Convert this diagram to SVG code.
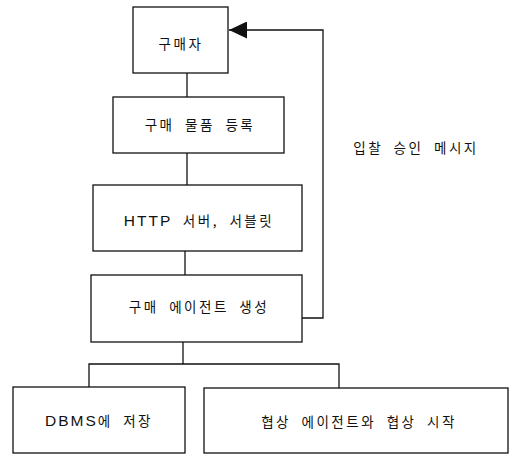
<svg xmlns="http://www.w3.org/2000/svg" width="510" height="455" viewBox="0 0 510 455">
<style>
.box{fill:#fff;stroke:#111;stroke-width:1.3}
.t{font-family:"Noto Sans CJK KR","Liberation Sans",sans-serif;font-size:13.5px;letter-spacing:2.5px;word-spacing:5px;fill:#111;text-anchor:middle;dominant-baseline:central}
.lat{font-family:"Liberation Sans",sans-serif;font-size:15.5px;letter-spacing:2px}
.c{fill:none;stroke:#111;stroke-width:1.3}
</style>
<defs>
<marker id="big" markerWidth="19" markerHeight="17" refX="18" refY="8.5" orient="auto" markerUnits="userSpaceOnUse">
<path d="M0,0 L18,8.5 L0,17 Z" fill="#111"/>
</marker>
</defs>
<rect width="510" height="455" fill="#fff"/>
<g id="connectors">
<line class="c" x1="187" y1="73" x2="187" y2="97"/>
<line class="c" x1="187" y1="153" x2="187" y2="185"/>
<line class="c" x1="185" y1="251" x2="185" y2="275"/>
<polyline class="c" points="183,342 183,364"/>
<polyline class="c" points="89,387 89,364 339,364 339,388"/>
<polyline class="c" points="302,318 323,318 323,30 229,30" marker-end="url(#big)"/>
</g>
<g id="n1"><rect class="box" x="133" y="7" width="95" height="66"/><text class="t" x="181" y="43">구매자</text></g>
<g id="n2"><rect class="box" x="113" y="97" width="171" height="56"/><text class="t" x="200" y="124">구매 물품 등록</text></g>
<g id="n3"><rect class="box" x="93" y="185" width="209" height="66"/><text class="t" x="199" y="220"><tspan class="lat">HTTP</tspan> 서버, 서블릿</text></g>
<g id="n4"><rect class="box" x="91" y="275" width="211" height="67"/><text class="t" x="199" y="306">구매 에이전트 생성</text></g>
<g id="n5"><rect class="box" x="13" y="387" width="172" height="66"/><text class="t" x="99" y="420"><tspan class="lat">DBMS</tspan>에 저장</text></g>
<g id="n6"><rect class="box" x="204" y="388" width="304" height="65"/><text class="t" x="359" y="421">협상 에이전트와 협상 시작</text></g>
<g id="label"><text class="t" x="416" y="147">입찰 승인 메시지</text></g>
</svg>
